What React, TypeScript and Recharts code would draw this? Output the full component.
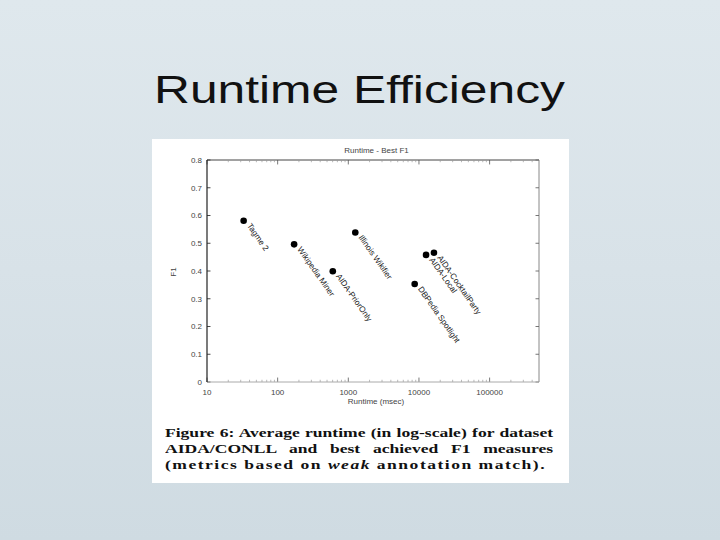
import React from 'react';
import { ScatterChart, Scatter, XAxis, YAxis, ReferenceLine, Customized } from 'recharts';

const systems = ['Tagme 2', 'Wikipedia Miner', 'AIDA-PriorOnly', 'Illinois Wikifier', 'DBPedia Spotlight', 'AIDA-Local', 'AIDA-CocktailParty'];
const runtimeMs = [33, 171, 603, 1256, 8700, 12600, 16300];
const bestF1 = [0.581, 0.496, 0.399, 0.539, 0.353, 0.458, 0.466];

const xMajorTicks = [10, 100, 1000, 10000, 100000];
const xMinorTicks = [
  20, 30, 40, 50, 60, 70, 80, 90,
  200, 300, 400, 500, 600, 700, 800, 900,
  2000, 3000, 4000, 5000, 6000, 7000, 8000, 9000,
  20000, 30000, 40000, 50000, 60000, 70000, 80000, 90000,
  200000, 300000, 400000,
];
const yTicks = [0, 0.1, 0.2, 0.3, 0.4, 0.5, 0.6, 0.7, 0.8];
const xDomain = [10, 500000];
const yDomain = [0, 0.8];

const captionLines = [
  'Figure 6: Average runtime (in log-scale) for dataset',
  'AIDA/CONLL and best achieved F1 measures',
];

const data = systems.map((name, i) => ({ name, runtime: runtimeMs[i], f1: bestF1[i] }));

const FONT = '"Liberation Sans", Arial, Helvetica, sans-serif';

const Marker = (props: any) => {
  const { cx, cy, payload } = props;
  if (cx == null || cy == null) return null;
  const tx = cx + 3;
  const ty = cy + 5;
  return (
    <g>
      <circle cx={cx} cy={cy} r={3.3} fill="#000" />
      <text x={tx} y={ty} transform={`rotate(55 ${tx} ${ty})`} fontSize={8.2} fill="#222" fontFamily={FONT}>
        {payload.name}
      </text>
    </g>
  );
};

const ChartTexts = () => (
  <g fontFamily={FONT} fill="#444" fontSize={8}>
    <text x={224.5} y={14} textAnchor="middle">Runtime - Best F1</text>
    <text x={224} y={265} textAnchor="middle">Runtime (msec)</text>
    <text x={24} y={133} textAnchor="middle" transform="rotate(-90 24 133)">F1</text>
  </g>
);

const MAJOR_Y_LEN = 0.016;
const MINOR_Y_LEN = 0.008;
const X_TICK_FACTOR = 1.12;

export default function App() {
  return (
    <div
      style={{
        position: 'absolute',
        left: 0,
        top: 0,
        width: 720,
        height: 540,
        overflow: 'hidden',
        background: 'linear-gradient(180deg, #dfe8ed 0%, #d8e2e8 50%, #cfdbe2 100%)',
      }}
    >
      <div
        style={{
          position: 'absolute',
          left: 154,
          top: 70,
          fontFamily: FONT,
          fontSize: 39,
          lineHeight: '39px',
          color: '#111',
          whiteSpace: 'nowrap',
          transform: 'scaleX(1.275)',
          transformOrigin: 'left top',
        }}
      >
        Runtime Efficiency
      </div>

      <div style={{ position: 'absolute', left: 152, top: 139, width: 417, height: 344, background: '#fff' }} />

      <div style={{ position: 'absolute', left: 152, top: 139 }}>
        <ScatterChart width={417} height={280} margin={{ top: 21, right: 30, bottom: 7, left: 0 }}>
          <XAxis
            dataKey="runtime"
            type="number"
            scale="log"
            domain={xDomain}
            allowDataOverflow
            ticks={xMajorTicks}
            tickLine={false}
            tickSize={5}
            tickMargin={2}
            height={30}
            axisLine={{ stroke: '#aaa', strokeWidth: 1 }}
            tick={{ fontSize: 8, fill: '#444', fontFamily: FONT }}
          />
          <YAxis
            dataKey="f1"
            type="number"
            domain={yDomain}
            allowDataOverflow
            ticks={yTicks}
            tickLine={false}
            tickSize={3}
            tickMargin={2}
            width={55}
            axisLine={{ stroke: '#222', strokeWidth: 1.2 }}
            tick={{ fontSize: 8, fill: '#444', fontFamily: FONT }}
          />
          <ReferenceLine y={yDomain[1]} stroke="#444" strokeWidth={1} />
          <ReferenceLine x={xDomain[1]} stroke="#888" strokeWidth={1} />
          {xMajorTicks.map((v) => (
            <ReferenceLine key={`xb${v}`} segment={[{ x: v, y: yDomain[0] }, { x: v, y: yDomain[0] + MAJOR_Y_LEN }]} stroke="#555" strokeWidth={0.8} />
          ))}
          {xMajorTicks.map((v) => (
            <ReferenceLine key={`xt${v}`} segment={[{ x: v, y: yDomain[1] }, { x: v, y: yDomain[1] - MAJOR_Y_LEN }]} stroke="#555" strokeWidth={0.8} />
          ))}
          {xMinorTicks.map((v) => (
            <ReferenceLine key={`mb${v}`} segment={[{ x: v, y: yDomain[0] }, { x: v, y: yDomain[0] + MINOR_Y_LEN }]} stroke="#999" strokeWidth={0.7} />
          ))}
          {xMinorTicks.map((v) => (
            <ReferenceLine key={`mt${v}`} segment={[{ x: v, y: yDomain[1] }, { x: v, y: yDomain[1] - MINOR_Y_LEN }]} stroke="#999" strokeWidth={0.7} />
          ))}
          {yTicks.map((v) => (
            <ReferenceLine key={`yl${v}`} segment={[{ x: xDomain[0], y: v }, { x: xDomain[0] * X_TICK_FACTOR, y: v }]} stroke="#333" strokeWidth={0.9} />
          ))}
          {yTicks.map((v) => (
            <ReferenceLine key={`yr${v}`} segment={[{ x: xDomain[1], y: v }, { x: xDomain[1] / X_TICK_FACTOR, y: v }]} stroke="#666" strokeWidth={0.9} />
          ))}
          <Scatter data={data} shape={Marker} isAnimationActive={false} />
          <Customized component={ChartTexts} />
        </ScatterChart>
      </div>

      <div
        style={{
          position: 'absolute',
          left: 165,
          top: 425,
          width: 298.5,
          fontFamily: '"Liberation Serif", "Times New Roman", serif',
          fontWeight: 700,
          fontSize: 13.5,
          lineHeight: '16px',
          color: '#111',
          transform: 'scaleX(1.3)',
          transformOrigin: 'left top',
        }}
      >
        {captionLines.map((line) => (
          <div key={line} style={{ whiteSpace: 'nowrap', textAlign: 'justify', textAlignLast: 'justify' }}>
            {line}
          </div>
        ))}
        <div style={{ whiteSpace: 'nowrap', letterSpacing: 1.15 }}>
          (metrics based on <i>weak</i> annotation match).
        </div>
      </div>
    </div>
  );
}
